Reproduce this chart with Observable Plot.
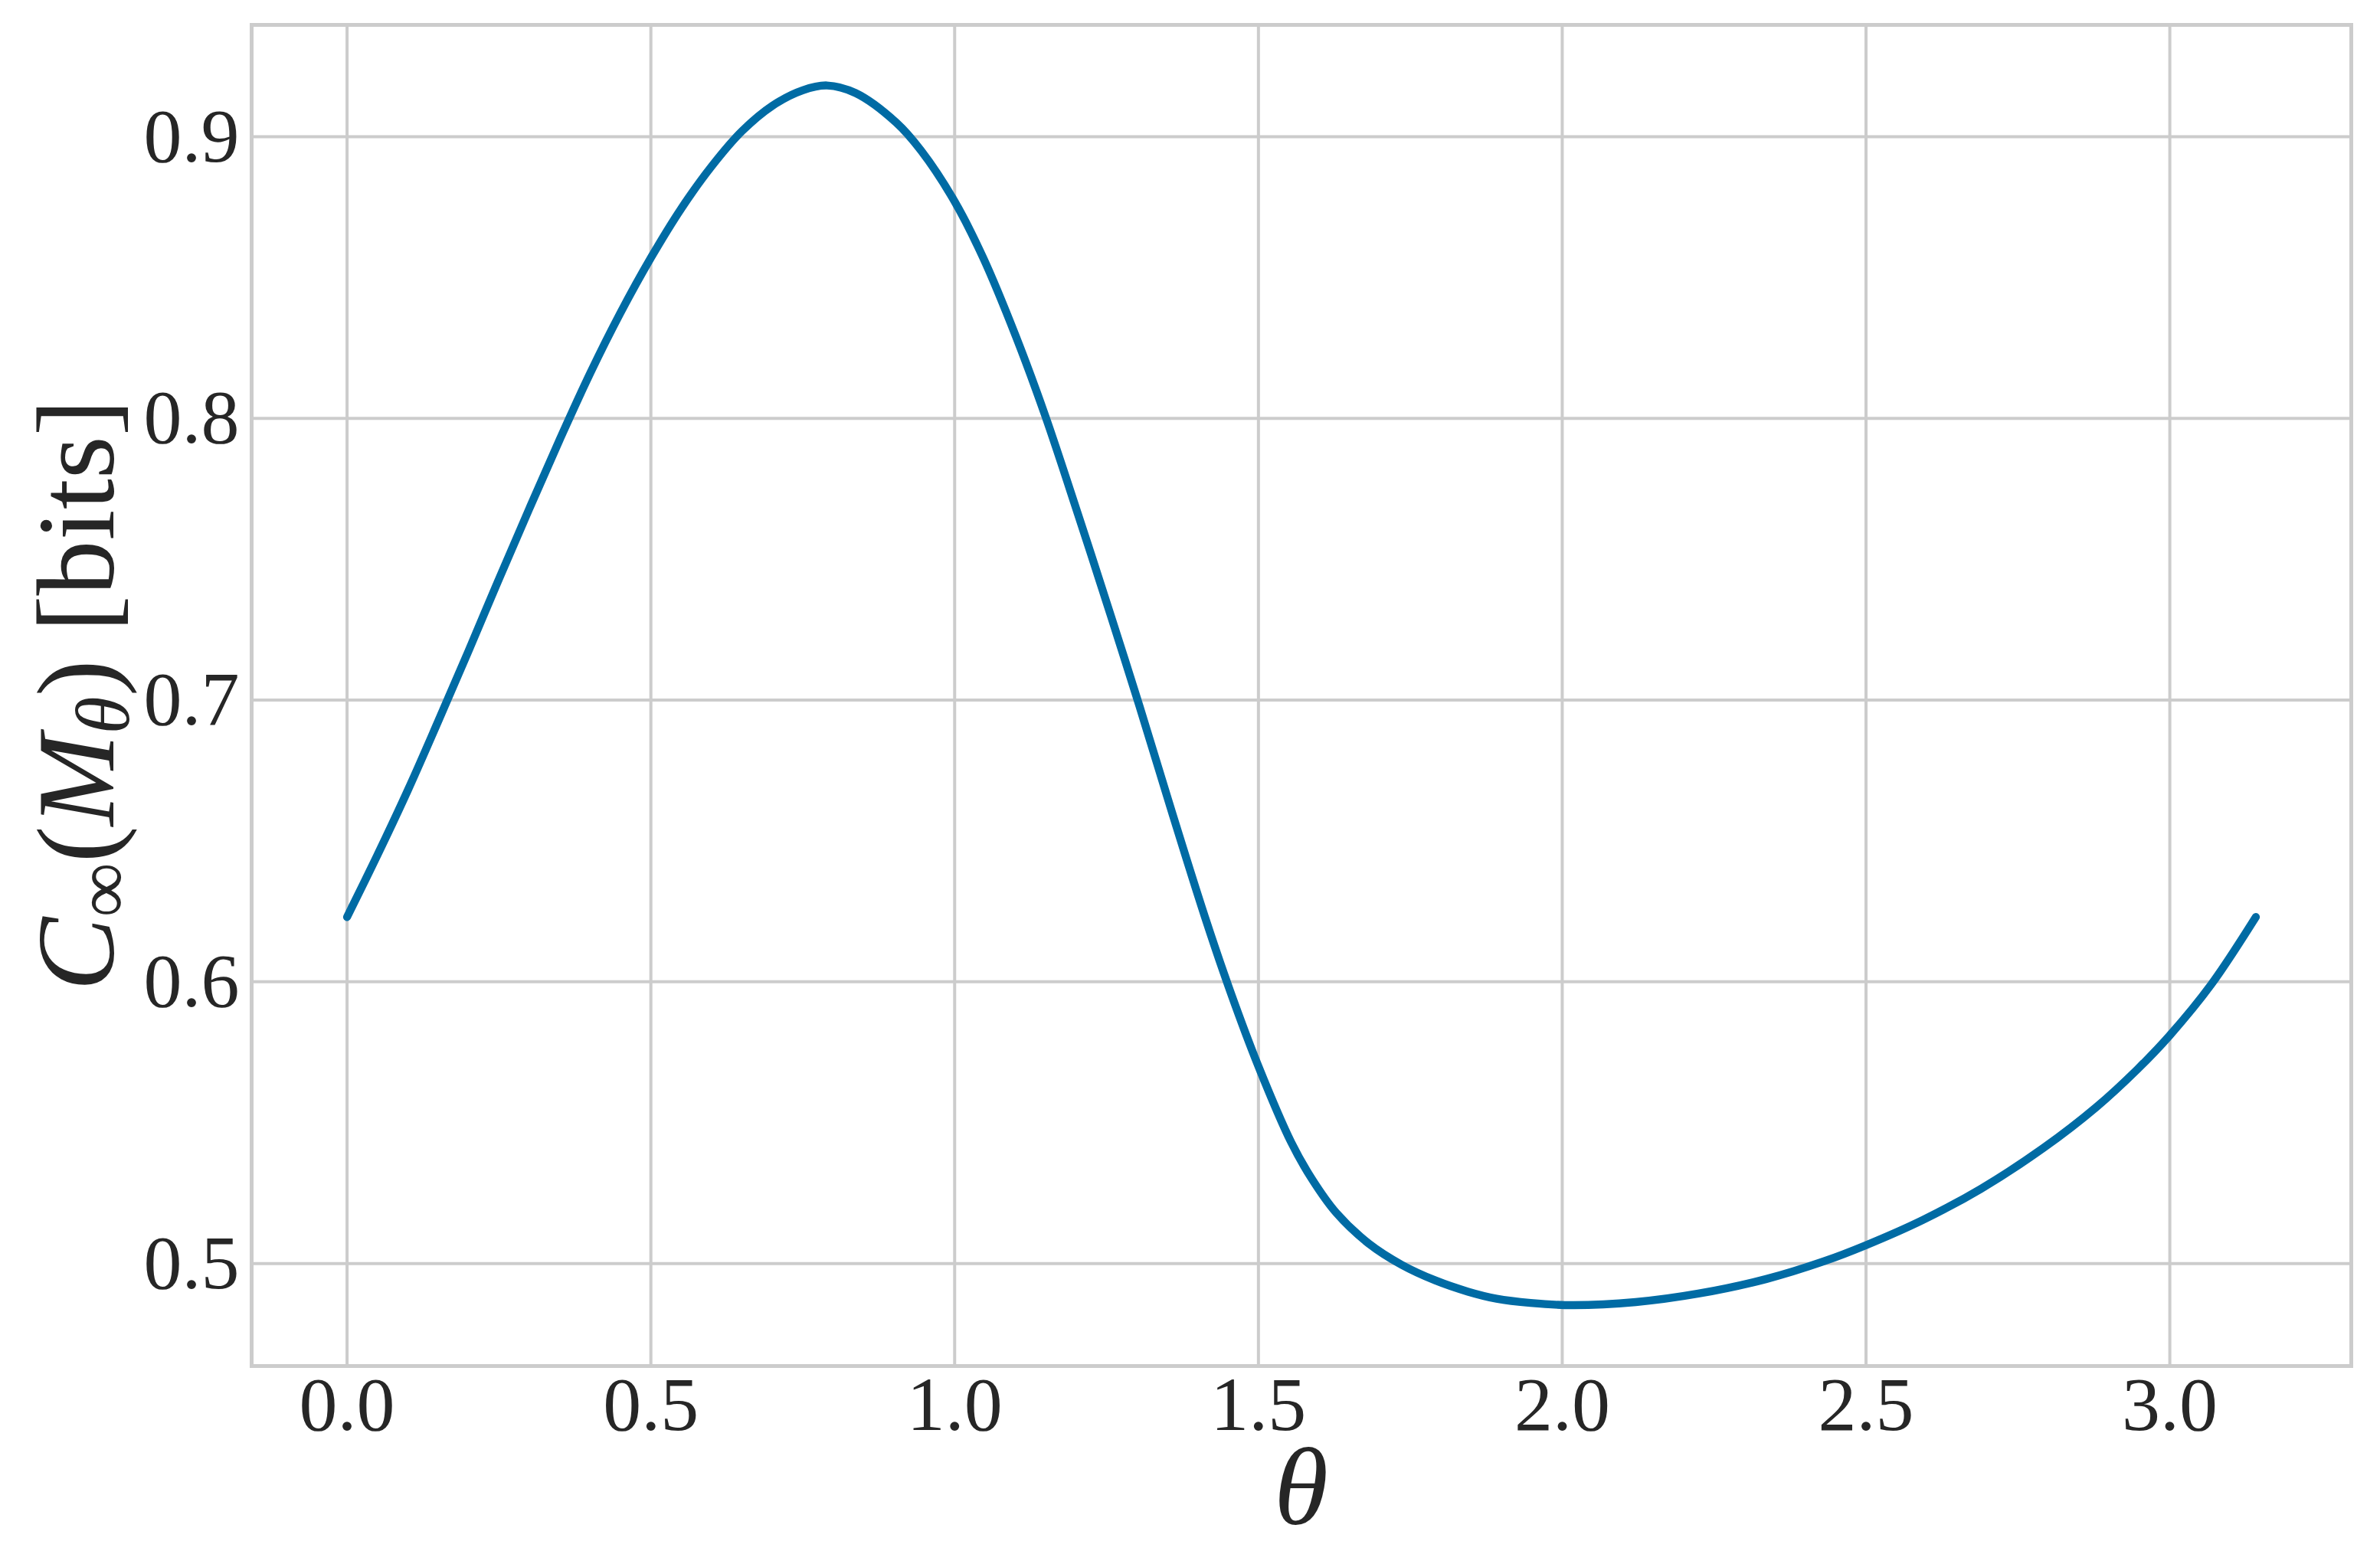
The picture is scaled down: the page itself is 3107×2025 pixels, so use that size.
<!DOCTYPE html>
<html>
<head>
<meta charset="utf-8">
<script src="https://cdn.jsdelivr.net/npm/d3@7"></script>
<script src="https://cdn.jsdelivr.net/npm/@observablehq/plot@0.6"></script>
<style>
  html, body { margin: 0; padding: 0; background: #ffffff; }
  #chart svg { display: block; }
</style>
</head>
<body>
<div id="chart"></div>
<script>
// θ values (radians)
const thetas = [
  0.00, 0.05, 0.10, 0.15, 0.20, 0.25, 0.30, 0.35, 0.40, 0.45,
  0.50, 0.55, 0.60, 0.65, 0.70, 0.75, 0.79, 0.837, 0.904, 0.945,
  1.000, 1.047, 1.101, 1.149, 1.203, 1.257, 1.304, 1.358, 1.412, 1.453,
  1.500, 1.554, 1.588, 1.628, 1.682, 1.736, 1.791, 1.845, 1.892, 1.948,
  2.017, 2.121, 2.224, 2.336, 2.431, 2.500, 2.594, 2.689, 2.792, 2.879,
  2.947, 3.000, 3.068, 3.1416
];
// C_inf(M_theta) in bits
const capacity = [
  0.623, 0.645, 0.668, 0.6925, 0.7175, 0.743, 0.768, 0.7925, 0.816, 0.8375,
  0.857, 0.8745, 0.8895, 0.902, 0.911, 0.9165, 0.9182, 0.9155, 0.905, 0.895,
  0.877, 0.857, 0.829, 0.801, 0.766, 0.730, 0.698, 0.660, 0.623, 0.597,
  0.570, 0.543, 0.530, 0.518, 0.507, 0.4995, 0.494, 0.490, 0.4875, 0.486,
  0.4852, 0.4863, 0.4893, 0.4945, 0.5008, 0.5065, 0.5155, 0.5265, 0.541, 0.5555,
  0.569, 0.581, 0.599, 0.623
];
const xTicks = [0.0, 0.5, 1.0, 1.5, 2.0, 2.5, 3.0];
const xTickLabels = ["0.0", "0.5", "1.0", "1.5", "2.0", "2.5", "3.0"];
const yTicks = [0.5, 0.6, 0.7, 0.8, 0.9];
const yTickLabels = ["0.5", "0.6", "0.7", "0.8", "0.9"];

const data = thetas.map((t, i) => ({theta: t, c: capacity[i]}));

const W = 3107, H = 2025;
const mL = 328, mR = 38, mT = 32, mB = 242;
const serif = "'Liberation Serif', 'DejaVu Serif', serif";
const ink = "#262626";
const gridColor = "#cccccc";

const chart = Plot.plot({
  width: W,
  height: H,
  marginLeft: mL,
  marginRight: mR,
  marginTop: mT,
  marginBottom: mB,
  style: {fontFamily: serif, fontSize: "100px", color: ink, background: "#ffffff"},
  x: {domain: [-0.15708, 3.29867]},
  y: {domain: [0.4636, 0.9397]},
  marks: [
    Plot.gridX(xTicks, {stroke: gridColor, strokeOpacity: 1, strokeWidth: 4}),
    Plot.gridY(yTicks, {stroke: gridColor, strokeOpacity: 1, strokeWidth: 4}),
    Plot.frame({stroke: gridColor, strokeWidth: 5}),
    Plot.axisX(xTicks, {
      tickSize: 0, tickPadding: 12, fontSize: 100, label: null,
      tickFormat: (d) => xTickLabels[xTicks.indexOf(d)]
    }),
    Plot.axisY(yTicks, {
      tickSize: 0, tickPadding: 16, fontSize: 100, label: null,
      tickFormat: (d) => yTickLabels[yTicks.indexOf(d)]
    }),
    Plot.line(data, {
      x: "theta", y: "c", stroke: "#006BA4", strokeWidth: 10.4,
      curve: "catmull-rom", strokeLinecap: "round", strokeLinejoin: "round"
    })
  ]
});

document.getElementById("chart").appendChild(chart);

// Axis titles (rich text)
const svg = d3.select(chart);
const cx = (mL + (W - mR)) / 2;
const cy = (mT + (H - mB)) / 2;

svg.append("text")
  .attr("x", cx)
  .attr("y", 1990)
  .attr("text-anchor", "middle")
  .attr("fill", ink)
  .style("font-family", serif)
  .style("font-size", "144px")
  .style("font-style", "italic")
  .text("θ");

const yl = svg.append("text")
  .attr("transform", `translate(148,${cy}) rotate(-90)`)
  .attr("text-anchor", "middle")
  .attr("fill", ink)
  .style("font-family", serif)
  .style("font-size", "144px");
yl.append("tspan").style("font-style", "italic").text("C");
yl.append("tspan").attr("font-size", "100px").attr("dy", "20").text("∞");
yl.append("tspan").attr("dy", "-20").text("(");
yl.append("tspan").style("font-style", "italic").text("M");
yl.append("tspan").attr("font-size", "100px").style("font-style", "italic").attr("dy", "20").text("θ");
yl.append("tspan").attr("dy", "-20").text(")");
yl.append("tspan").text("\u00A0[bits]");
</script>
</body>
</html>
